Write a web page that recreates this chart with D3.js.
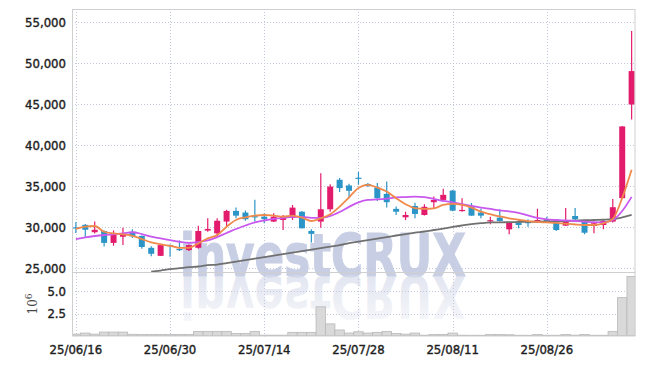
<!DOCTYPE html>
<html>
<head>
<meta charset="utf-8">
<script src="https://cdn.jsdelivr.net/npm/d3@7"></script>
<style>
body{margin:0;background:#fff}
</style>
</head>
<body>
<svg id="chart" width="645" height="366"></svg>
<script>
var dates = ["25/06/16","25/06/17","25/06/18","25/06/19","25/06/20","25/06/23","25/06/24","25/06/25","25/06/26","25/06/27",
  "25/06/30","25/07/01","25/07/02","25/07/03","25/07/04","25/07/07","25/07/08","25/07/09","25/07/10","25/07/11",
  "25/07/14","25/07/15","25/07/16","25/07/17","25/07/18","25/07/21","25/07/22","25/07/23","25/07/24","25/07/25",
  "25/07/28","25/07/29","25/07/30","25/07/31","25/08/01","25/08/04","25/08/05","25/08/06","25/08/07","25/08/08",
  "25/08/11","25/08/12","25/08/13","25/08/14","25/08/18","25/08/19","25/08/20","25/08/21","25/08/22","25/08/25",
  "25/08/26","25/08/27","25/08/28","25/08/29","25/09/01","25/09/02","25/09/03","25/09/04","25/09/05","25/09/08"]
var openP = [30000,30300,29400,29550,28100,28850,29450,28950,27500,26520,
  27850,27350,27220,27500,29600,29260,30700,32000,31800,31350,
  31300,30700,30900,31180,31900,29550,30700,32200,35800,35100,
  36050,35270,34850,34080,32250,31220,32600,31500,33060,33340,
  34480,32000,32600,31800,30800,31180,29750,30600,30650,30610,
  30980,30610,30200,31380,30800,30160,30280,30700,33550,44980]
var highP = [30650,30400,30700,29600,29600,29950,29750,29000,27700,28000,
  27900,28400,27900,30200,31100,31100,32150,32400,32050,33350,
  31700,31700,31500,32730,32000,29750,36600,35250,36000,35300,
  36750,35400,35400,35600,32550,31900,33000,32800,33750,34700,
  34550,33550,32950,32250,31300,32200,30650,30850,30980,32250,
  31300,30700,32350,32350,30900,30600,30850,33450,42350,53950]
var lowP = [29300,28850,29250,27650,27750,27830,28700,27400,26480,26500,
  26400,27100,27100,27400,29450,28850,30100,31100,30800,30700,
  30500,30650,29670,30900,29850,28150,29950,31900,34300,33550,
  35200,34900,33200,32400,31500,30900,31100,31450,32330,33150,
  31950,31900,31400,31100,30370,30700,29150,29900,30070,30550,
  30600,29550,30150,30900,29150,29260,29750,30600,33450,43150]
var closeP = [29950,29700,29700,28100,29250,29150,28900,27600,26770,27830,
  27800,27250,27830,29550,29800,30800,32000,31420,30980,31250,
  31000,31300,31300,32400,29880,29200,32200,34970,34780,34450,
  35950,35100,33550,33060,31900,31500,31630,32500,33340,33960,
  32030,32120,31420,31420,30870,30770,30600,30280,30500,30890,
  30690,29670,30890,30980,29340,30490,30770,32450,42300,49050]
var ma5 = [29800,30070,30160,29460,29260,29140,28970,28570,28160,27920,
  27750,27500,27500,28040,28650,29060,30070,30890,31220,31420,
  31500,31420,31300,31420,31180,30770,31100,31590,32520,33650,
  34800,35180,34850,34360,33550,32820,32330,32240,32300,32730,
  32850,32730,32400,31900,31600,31320,31100,30920,30750,30650,
  30590,30530,30430,30340,30280,30280,30490,31020,33590,37020]
var ma20 = [28570,28780,28940,29060,29140,29260,29400,29180,28850,28650,
  28440,28240,28110,28200,28400,28810,29300,29790,30220,30590,
  30830,31020,31160,31260,31260,31160,31140,31380,31870,32490,
  33040,33340,33400,33500,33650,33690,33740,33680,33470,33220,
  33040,32820,32610,32400,32240,32060,31940,31750,31450,31140,
  30960,30890,30830,30770,30690,30620,30610,30890,31990,33710]
var ma60 = [null,null,null,null,null,null,null,null,24590,24730,
  24890,25010,25140,25220,25380,25440,25630,25810,25990,26180,
  26360,26550,26730,26920,27100,27280,27460,27650,27830,28080,
  28260,28440,28630,28810,29000,29180,29360,29490,29670,29850,
  30040,30220,30380,30500,30590,30610,30620,30650,30670,30690,
  30710,30750,30770,30810,30860,30890,30920,30980,31200,31510]
var volume = [0.17,0.29,0.17,0.4,0.4,0.4,0.15,0.12,0.12,0.12,
  0.12,0.12,0.12,0.48,0.48,0.48,0.48,0.25,0.25,0.48,
  0.05,0.05,0.05,0.37,0.37,0.37,3.26,1.33,0.64,0.29,
  0.44,0.29,0.37,0.48,0.25,0.17,0.29,0.05,0.12,0.12,
  0.29,0.05,0.04,0.04,0.12,0.12,0.1,0.04,0.04,0.12,
  0.04,0.04,0.12,0.05,0.12,0.04,0.04,0.48,4.3,6.7]
var priceTicks = [25000,30000,35000,40000,45000,50000,55000]
var volTicks = [2.5,5.0]
var dateTicks = ["25/06/16","25/06/30","25/07/14","25/07/28","25/08/11","25/08/26"]

drawChart()
function drawChart(){
  var left = 72, right = 635.5, top = 9, mid = 272, bottom = 336.5
  var up = "#e31b6d", down = "#2c95c7"
  var gridColor = "#c3c8dc"
  var tickFont = "'DejaVu Sans Condensed','DejaVu Sans',sans-serif"

  var svg = d3.select("#chart")

  var x = d3.scalePoint().domain(dates).range([left, right]).padding(0.41)
  var step = x.step()
  var y = d3.scaleLinear().domain([24550, 56620]).range([mid, top])
  var yv = d3.scaleLinear().domain([-0.1, 7.2]).range([bottom, mid])

  var defs = svg.append("defs")
  defs.append("clipPath").attr("id","priceClip").append("rect")
    .attr("x",left).attr("y",top).attr("width",right-left).attr("height",mid-top)
  defs.append("clipPath").attr("id","volClip").append("rect")
    .attr("x",left).attr("y",mid).attr("width",right-left).attr("height",bottom-mid)
  var grad = defs.append("linearGradient").attr("id","fade")
    .attr("x1",0).attr("y1",0).attr("x2",0).attr("y2",1)
  grad.append("stop").attr("offset","0%").attr("stop-color","#d6dbea").attr("stop-opacity",0.15)
  grad.append("stop").attr("offset","100%").attr("stop-color","#d6dbea").attr("stop-opacity",0.85)

  // watermark + reflection
  svg.append("text")
    .text("investCRUX")
    .attr("x",180).attr("y",276)
    .attr("textLength",286).attr("lengthAdjust","spacingAndGlyphs")
    .attr("font-family","'DejaVu Sans',sans-serif").attr("font-weight",700).attr("font-size",58)
    .attr("fill","#c8cfe4")
    .attr("stroke","#c8cfe4").attr("stroke-width",1.2)
  svg.append("text")
    .text("investCRUX")
    .attr("x",180).attr("y",276)
    .attr("transform","translate(0,552) scale(1,-1)")
    .attr("textLength",286).attr("lengthAdjust","spacingAndGlyphs")
    .attr("font-family","'DejaVu Sans',sans-serif").attr("font-weight",700).attr("font-size",58)
    .attr("fill","url(#fade)")

  // grid
  var grid = svg.append("g").attr("stroke",gridColor).attr("stroke-width",1).attr("stroke-dasharray","1,2")
  grid.selectAll(".hp").data(priceTicks).enter().append("line")
    .attr("x1",left).attr("x2",right)
    .attr("y1",function(d){return Math.round(y(d))+0.5})
    .attr("y2",function(d){return Math.round(y(d))+0.5})
  grid.selectAll(".hv").data(volTicks).enter().append("line")
    .attr("x1",left).attr("x2",right)
    .attr("y1",function(d){return Math.round(yv(d))+0.5})
    .attr("y2",function(d){return Math.round(yv(d))+0.5})
  grid.selectAll(".vx").data(dateTicks).enter().append("line")
    .attr("x1",function(d){return Math.round(x(d))+0.5})
    .attr("x2",function(d){return Math.round(x(d))+0.5})
    .attr("y1",top).attr("y2",bottom)

  // volume
  svg.append("g").attr("clip-path","url(#volClip)").selectAll("rect")
    .data(volume)
    .enter()
    .append("rect")
    .attr("x",function(d,i){return x(dates[i]) - step/2})
    .attr("y",function(d){return yv(d)})
    .attr("width",step)
    .attr("height",function(d){return yv(0) - yv(d)})
    .attr("fill","#d9d9d9")
    .attr("stroke","#b9b9b9")
    .attr("stroke-width",0.8)

  // candles
  var candles = svg.append("g").attr("clip-path","url(#priceClip)")
  candles.selectAll("line")
    .data(dates)
    .enter()
    .append("line")
    .attr("x1",function(d){return x(d)})
    .attr("x2",function(d){return x(d)})
    .attr("y1",function(d,i){return y(highP[i])})
    .attr("y2",function(d,i){return y(lowP[i])})
    .attr("stroke",function(d,i){return closeP[i]>=openP[i] ? up : down})
    .attr("stroke-width",1.2)
  candles.selectAll("rect")
    .data(dates)
    .enter()
    .append("rect")
    .attr("x",function(d){return x(d) - 3})
    .attr("y",function(d,i){return y(Math.max(openP[i],closeP[i]))})
    .attr("width",6)
    .attr("height",function(d,i){return Math.max(1.2, Math.abs(y(openP[i]) - y(closeP[i])))})
    .attr("fill",function(d,i){return closeP[i]>=openP[i] ? up : down})

  // moving averages
  var lines = svg.append("g").attr("clip-path","url(#priceClip)").attr("fill","none")
  var maList = [{v:ma60,c:"#707070"},{v:ma20,c:"#c858ee"},{v:ma5,c:"#ef8a4c"}]
  maList.forEach(function(m){
    var line = d3.line()
      .defined(function(d){return d!=null})
      .x(function(d,i){return x(dates[i])})
      .y(function(d){return y(d)})
      .curve(d3.curveMonotoneX)
    lines.append("path")
      .attr("d",line(m.v))
      .attr("stroke",m.c)
      .attr("stroke-width",1.8)
  })

  // frame
  svg.append("rect")
    .attr("x",left+0.5).attr("y",top+0.5)
    .attr("width",right-left-1).attr("height",bottom-top-1)
    .attr("fill","none").attr("stroke","#cfcfcf")
  svg.append("line")
    .attr("x1",left).attr("x2",right).attr("y1",mid+0.5).attr("y2",mid+0.5)
    .attr("stroke","#cfcfcf")

  // axis labels
  svg.append("g").selectAll("text")
    .data(priceTicks)
    .enter()
    .append("text")
    .text(function(d){return d3.format(",")(d)})
    .attr("x",66)
    .attr("y",function(d){return y(d)})
    .attr("dy","0.36em")
    .attr("text-anchor","end")
    .attr("font-family",tickFont).attr("font-stretch","condensed")
    .attr("font-size",13).attr("fill","#1e1e1e")
    .attr("stroke","#1e1e1e").attr("stroke-width",0.4)
  svg.append("g").selectAll("text")
    .data(volTicks)
    .enter()
    .append("text")
    .text(function(d){return d3.format(".1f")(d)})
    .attr("x",66)
    .attr("y",function(d){return yv(d)})
    .attr("dy","0.36em")
    .attr("text-anchor","end")
    .attr("font-family",tickFont).attr("font-stretch","condensed")
    .attr("font-size",13).attr("fill","#1e1e1e")
    .attr("stroke","#1e1e1e").attr("stroke-width",0.4)
  svg.append("g").selectAll("text")
    .data(dateTicks)
    .enter()
    .append("text")
    .text(function(d){return d})
    .attr("x",function(d){return x(d)})
    .attr("y",354)
    .attr("text-anchor","middle")
    .attr("font-family",tickFont).attr("font-stretch","condensed")
    .attr("font-size",13).attr("fill","#1e1e1e")
    .attr("stroke","#1e1e1e").attr("stroke-width",0.4)

  var unit = svg.append("text")
    .attr("transform","translate(37,304) rotate(-90)")
    .attr("text-anchor","middle")
    .attr("font-family","'DejaVu Serif',serif")
    .attr("font-size",12).attr("fill","#444")
  unit.append("tspan").text("10")
  unit.append("tspan").text("6").attr("dy",-5).attr("font-size",9)
}
</script>
</body>
</html>
